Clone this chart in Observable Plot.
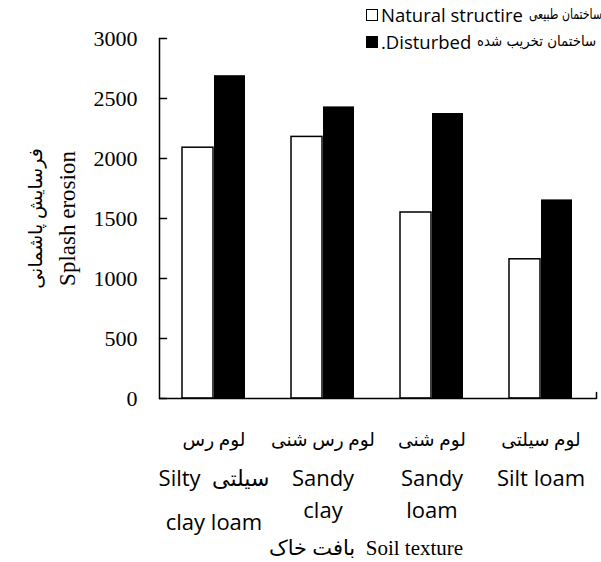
<!DOCTYPE html>
<html>
<head>
<meta charset="utf-8">
<script src="https://cdn.jsdelivr.net/npm/d3@7"></script>
<script src="https://cdn.jsdelivr.net/npm/@observablehq/plot@0.6"></script>
<style>
  html, body { margin: 0; padding: 0; background: #fff; }
  #wrap { position: relative; width: 601px; height: 562px; }
  #legend { position: absolute; left: 366px; top: 1px; font-family: "Open Sans", sans-serif; font-size: 18.5px; color: #000; line-height: 27px; white-space: nowrap; }
  .row { display: flex; align-items: center; }
  .sw { display: inline-block; width: 12px; height: 12px; border: 1.3px solid #000; margin-right: 3px; box-sizing: border-box; }
  .ar { display: inline-block; font-family: "DejaVu Sans", serif; font-size: 14.5px; margin-left: 6px; transform-origin: left center; }
</style>
</head>
<body>
<div id="wrap">
  <div id="chart"></div>
  <div id="legend"></div>
</div>
<script>
const categories = ["Silty clay loam", "Sandy clay", "Sandy loam", "Silt loam"];
const natural = [2090, 2180, 1550, 1160];
const disturbed = [2690, 2430, 2375, 1655];
const yTicks = [0, 500, 1000, 1500, 2000, 2500, 3000];
const arLabels = ["لوم رس", "لوم رس شنی", "لوم شنی", "لوم سیلتی"];
const enLine1 = ["Silty  سیلتی", "Sandy", "Sandy", "Silt loam"];
const enLine2 = ["clay loam", "clay", "loam", ""];
const seriesNames = ["Natural structire", ".Disturbed"];
const seriesAr = ["ساختمان طبیعی", "ساختمان تخریب شده"];
const yTitleAr = "فرسایش پاشمانی";
const yTitleEn = "Splash erosion";
const xTitle = "بافت خاک  Soil texture";

const rows = categories.map((c, i) => ({cat: c, nat: natural[i], dis: disturbed[i], ar: arLabels[i], e1: enLine1[i], e2: enLine2[i]}));
const tickShape = {draw(ctx, l) { ctx.moveTo(0, 0); ctx.lineTo(0, -l); }};
const serif = "Liberation Serif, DejaVu Sans";
const sans = "Open Sans, DejaVu Sans";

const chart = Plot.plot({
  width: 601,
  height: 562,
  marginLeft: 159,
  marginRight: 5,
  marginTop: 38,
  marginBottom: 164,
  style: {background: "#fff"},
  x: {domain: categories, paddingInner: 0.42, paddingOuter: 0.21, axis: null},
  y: {domain: [0, 3000], ticks: yTicks, axis: null},
  marks: [
    Plot.barY(rows, {x: "cat", y: "nat", fill: "#fff", stroke: "#000", strokeWidth: 1.5, insetRight: 32}),
    Plot.barY(rows, {x: "cat", y: "dis", fill: "#000", insetLeft: 32}),
    Plot.axisY({ticks: yTicks, tickSize: 0, tickPadding: 22, tickFormat: d => String(d), fontSize: 22, fontFamily: "Liberation Serif", label: null}),
    Plot.vector(yTicks, {y: d => d, frameAnchor: "left", length: 7, rotate: 90, anchor: "start", stroke: "#000", strokeWidth: 1.5, shape: tickShape}),
    Plot.ruleY([0], {stroke: "#000", strokeWidth: 1.5}),
    Plot.vector([0], {y: d => d, frameAnchor: "left", length: 360, rotate: 0, anchor: "start", stroke: "#000", strokeWidth: 1.5, shape: tickShape}),
    Plot.vector([0], {y: d => d, frameAnchor: "right", length: 6, rotate: 0, anchor: "start", stroke: "#000", strokeWidth: 1.5, shape: tickShape}),
    Plot.text([yTitleAr], {text: d => d, frameAnchor: "left", textAnchor: "middle", lineAnchor: "middle", rotate: -90, dx: -124, fontSize: 19, fontFamily: serif, fill: "#000"}),
    Plot.text([yTitleEn], {text: d => d, frameAnchor: "left", textAnchor: "middle", lineAnchor: "middle", rotate: -90, dx: -92, fontSize: 23, fontFamily: serif, fill: "#000"}),
    Plot.text(rows, {x: "cat", text: "ar", frameAnchor: "bottom", lineAnchor: "middle", dy: 42, fontSize: 18.5, fontFamily: serif, fill: "#000"}),
    Plot.text(rows, {x: "cat", text: "e1", frameAnchor: "bottom", lineAnchor: "middle", dy: 80, fontSize: 22, fontFamily: sans, fill: "#000"}),
    Plot.text(rows.slice(1), {x: "cat", text: "e2", frameAnchor: "bottom", lineAnchor: "middle", dy: 112, fontSize: 22, fontFamily: sans, fill: "#000"}),
    Plot.text(rows.slice(0, 1), {x: "cat", text: "e2", frameAnchor: "bottom", lineAnchor: "middle", dy: 124, fontSize: 22, fontFamily: sans, fill: "#000"}),
    Plot.text([xTitle], {text: d => d, frameAnchor: "bottom", lineAnchor: "middle", dy: 150, dx: -12, fontSize: 21, fontFamily: serif, fill: "#000"})
  ]
});
document.getElementById("chart").appendChild(chart);

const legend = document.getElementById("legend");
seriesNames.forEach((name, i) => {
  const row = document.createElement("div");
  row.className = "row";
  const sw = document.createElement("span");
  sw.className = "sw";
  sw.style.background = i === 0 ? "#fff" : "#000";
  row.appendChild(sw);
  const t = document.createElement("span");
  t.textContent = name;
  row.appendChild(t);
  const a = document.createElement("span");
  a.className = "ar";
  a.textContent = seriesAr[i];
  a.style.transform = i === 0 ? "scaleX(0.75)" : "scaleX(0.92)";
  row.appendChild(a);
  legend.appendChild(row);
});
</script>
</body>
</html>
